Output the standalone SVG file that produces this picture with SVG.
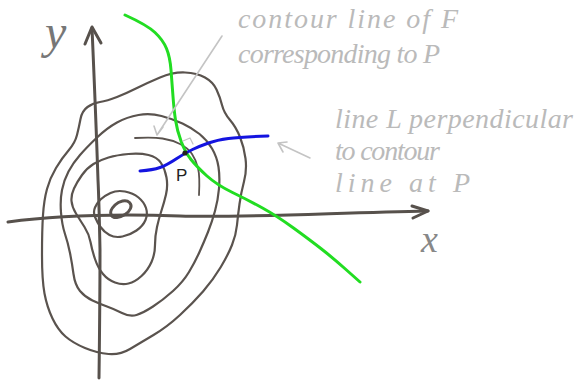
<svg xmlns="http://www.w3.org/2000/svg" width="578" height="381" viewBox="0 0 578 381">
<style>
.contour{fill:none;stroke:#5a534e;stroke-width:2.2;stroke-linecap:round;stroke-linejoin:round}
.axis{fill:none;stroke:#57514c;stroke-width:3;stroke-linecap:round;stroke-linejoin:round}
.note{fill:none;stroke:#c4c4c4;stroke-width:1.6;stroke-linecap:round;stroke-linejoin:round}
.hand{font-family:"Liberation Serif",serif;font-style:italic;font-size:28px;fill:#bababa}
</style>
<rect width="578" height="381" fill="#ffffff"/>
<g id="contours">
<path class="contour" d="M100,102 Q107,101 117,97 Q127,93 137,88 Q147,83 160,77.5 Q173,72 185,72.5 Q197,73 205,77.5 Q213,82 216.5,89.5 Q220,97 222,105 Q224,113 230,120 Q236,127 240,137 Q244,147 245.5,158.5 Q247,170 244,181.5 Q241,193 239.5,204 Q238,215 237,225 Q236,235 232,245 Q228,255 220.5,267.5 Q213,280 203,291.5 Q193,303 180,315 Q167,327 153.5,335 Q140,343 130,349 Q120,355 108.5,354 Q97,353 85,348 Q73,343 65.5,336.5 Q58,330 52.5,318.5 Q47,307 44.5,293.5 Q42,280 42,255 Q42,230 43,215 Q44,200 47,189 Q50,178 56,168 Q62,158 68.5,150.5 Q75,143 77,135 Q79,127 80.5,119 Q82,111 87.5,107 Q93,103 100,102 Z"/>
<path class="contour" d="M161.5,116 Q173,119 182.5,123.5 Q192,128 199.5,134 Q207,140 212,148.5 Q217,157 218.5,167 Q220,177 219,188.5 Q218,200 215,211 Q212,222 208,232 Q204,242 199.5,252 Q195,262 189,272 Q183,282 173,291 Q163,300 153,306.5 Q143,313 136.5,315 Q130,317 122,313 Q114,309 107,306.5 Q100,304 92.5,300.5 Q85,297 80,291 Q75,285 73.5,274 Q72,263 70,253 Q68,243 65,234 Q62,225 61,212.5 Q60,200 62,190 Q64,180 68.5,171.5 Q73,163 80,155 Q87,147 97,137.5 Q107,128 117,122.5 Q127,117 138.5,115 Q150,113 161.5,116 Z"/>
<path class="contour" d="M128.5,154 Q140,153 148.5,155 Q157,157 161,163 Q165,169 166.5,177.5 Q168,186 166,194.5 Q164,203 161.5,210.5 Q159,218 157,227 Q155,236 155,245 Q155,254 151.5,262 Q148,270 141.5,276 Q135,282 128.5,283.5 Q122,285 115,282.5 Q108,280 103,274 Q98,268 95,259 Q92,250 90.5,242 Q89,234 84.5,227 Q80,220 76,213.5 Q72,207 71.5,201 Q71,195 74,188.5 Q77,182 82,175 Q87,168 93.5,164 Q100,160 108.5,157.5 Q117,155 128.5,154 Z"/>
<path class="contour" d="M125,191.5 Q133,193 138.5,197.5 Q144,202 146,208 Q148,214 145.5,220 Q143,226 136.5,230.5 Q130,235 122.5,236.5 Q115,238 109.5,235 Q104,232 100.5,227 Q97,222 95,217 Q93,212 95,207.5 Q97,203 100.5,199.5 Q104,196 110.5,193 Q117,190 125,191.5 Z"/>
<path class="contour" style="stroke-width:3" d="M115,205 Q118,202 122.5,201 Q127,200 129.5,202.5 Q132,205 130.5,208.5 Q129,212 125,214.5 Q121,217 117,217.5 Q113,218 111.5,215.5 Q110,213 111,210.5 Q112,208 115,205 Z"/>
<path class="contour" style="stroke-width:1.8" d="M135,138 Q153,137 162.5,138.5 Q172,140 180,144 Q188,148 192,154 Q196,160 198,168 Q200,176 199,195"/>
</g>
<g id="axes">
<path class="axis" d="M99,378 Q100,300 100,250 Q99,200 98,180 Q96,120 92,28"/>
<path class="axis" d="M85,44 L92,27 L101,43"/>
<path class="axis" d="M8,222 C60,215 120,214 180,216 S330,213 428,211"/>
<path class="axis" d="M412,206 L428,211 L413,218"/>
</g>
<g id="curves">
<path fill="none" stroke="#22dd22" stroke-width="3" stroke-linecap="round" d="M125,15 Q147,25 155,32.5 Q163,40 166.5,48.5 Q170,57 171,70 Q172,83 173,96.5 Q174,110 175.5,120 Q177,130 181,141 Q185,152 191,159.5 Q197,167 207,176 Q217,185 232.5,192.5 Q248,200 262.5,208 Q277,216 293.5,228 Q310,240 321.5,249 Q333,258 346.5,270 L360,282"/>
<path fill="none" stroke="#1414e0" stroke-width="3" stroke-linecap="round" d="M140,171 Q153,170 160,167.5 Q167,165 176,159 Q185,153 192.5,149.5 Q200,146 208.5,143 Q217,140 228.5,138.5 Q240,137 268,136"/>
<circle cx="185" cy="153" r="2.6" fill="#222"/>
<path class="note" style="stroke-width:1.3" d="M183,141 L190,138 L193,144"/>
</g>
<g id="pointers">
<path class="note" d="M222,36 L157,135 M154,126 L157,135 L163,127"/>
<path class="note" d="M310,158 L278,143 M287,142 L278,143 L283,152"/>
</g>
<g id="labels">
<text x="45" y="48" font-family="Liberation Serif,serif" font-style="italic" font-size="48" fill="#777">y</text>
<text x="421" y="252" font-family="Liberation Serif,serif" font-style="italic" font-size="38" fill="#888">x</text>
<text x="176" y="181" font-family="Liberation Sans,sans-serif" font-size="17" fill="#222">P</text>
<text class="hand" x="238" y="28" textLength="220" lengthAdjust="spacing">contour line of F</text>
<text class="hand" x="238" y="63" textLength="202" lengthAdjust="spacing">corresponding to P</text>
<text class="hand" x="335" y="128" textLength="238" lengthAdjust="spacing">line L perpendicular</text>
<text class="hand" x="335" y="160" textLength="105" lengthAdjust="spacing">to contour</text>
<text class="hand" x="335" y="192" textLength="135" lengthAdjust="spacing">line at P</text>
</g>
</svg>
